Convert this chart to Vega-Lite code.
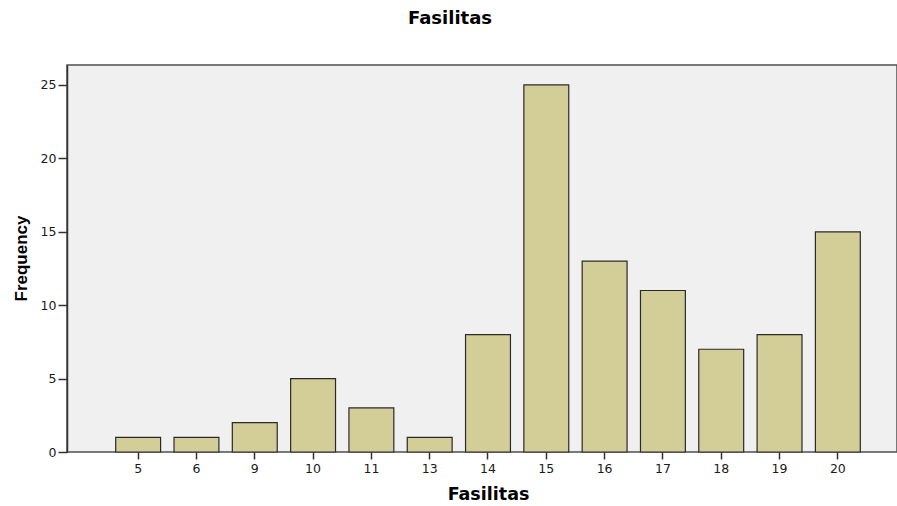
{
  "$schema": "https://vega.github.io/schema/vega-lite/v6.json",
  "width": 830,
  "height": 387,
  "autosize": "none",
  "padding": {"left": 67, "top": 65, "right": 0, "bottom": 54},
  "background": "white",
  "title": {
    "text": "Fasilitas",
    "font": "DejaVu Sans",
    "fontSize": 18,
    "fontWeight": "bold",
    "color": "#000000",
    "anchor": "middle",
    "frame": "group",
    "dx": -32,
    "offset": 37,
    "limit": 0
  },
  "config": {
    "view": {"fill": "#f0f0f0", "stroke": "#505050", "strokeWidth": 1.5}
  },
  "data": {
    "values": [
      {"Fasilitas": "5", "Frequency": 1},
      {"Fasilitas": "6", "Frequency": 1},
      {"Fasilitas": "9", "Frequency": 2},
      {"Fasilitas": "10", "Frequency": 5},
      {"Fasilitas": "11", "Frequency": 3},
      {"Fasilitas": "13", "Frequency": 1},
      {"Fasilitas": "14", "Frequency": 8},
      {"Fasilitas": "15", "Frequency": 25},
      {"Fasilitas": "16", "Frequency": 13},
      {"Fasilitas": "17", "Frequency": 11},
      {"Fasilitas": "18", "Frequency": 7},
      {"Fasilitas": "19", "Frequency": 8},
      {"Fasilitas": "20", "Frequency": 15}
    ]
  },
  "mark": {"type": "bar", "fill": "#d3ce97", "stroke": "#2a2a2a", "strokeWidth": 1.2},
  "encoding": {
    "x": {
      "field": "Fasilitas",
      "type": "ordinal",
      "sort": null,
      "scale": {"range": [42, 800], "paddingInner": 0.23, "paddingOuter": 0.115},
      "axis": {
        "title": "Fasilitas",
        "titleFont": "DejaVu Sans",
        "titleFontSize": 17.5,
        "titleFontWeight": "bold",
        "titleColor": "#000000",
        "titleX": 421,
        "titleY": 33,
        "titleAlign": "center",
        "titleBaseline": "top",
        "labelAngle": 0,
        "labelFont": "DejaVu Sans",
        "labelFontSize": 12.5,
        "labelColor": "#1a1a1a",
        "labelPadding": 3,
        "domain": false,
        "tickColor": "#333333",
        "tickWidth": 1.5,
        "tickSize": 7,
        "grid": false
      }
    },
    "y": {
      "field": "Frequency",
      "type": "quantitative",
      "scale": {"domain": [0, 26.36], "nice": false},
      "axis": {
        "values": [0, 5, 10, 15, 20, 25],
        "title": "Frequency",
        "titleFont": "Liberation Sans Narrow, Liberation Sans",
        "titleFontSize": 17,
        "titleFontWeight": "bold",
        "titleColor": "#000000",
        "titleX": -41,
        "titleY": 193,
        "titleAlign": "center",
        "titleBaseline": "alphabetic",
        "labelFont": "DejaVu Sans",
        "labelFontSize": 12.5,
        "labelColor": "#1a1a1a",
        "labelPadding": 2,
        "domainColor": "#333333",
        "domainWidth": 1.5,
        "tickColor": "#333333",
        "tickWidth": 1.5,
        "tickSize": 9,
        "grid": false
      }
    }
  }
}
